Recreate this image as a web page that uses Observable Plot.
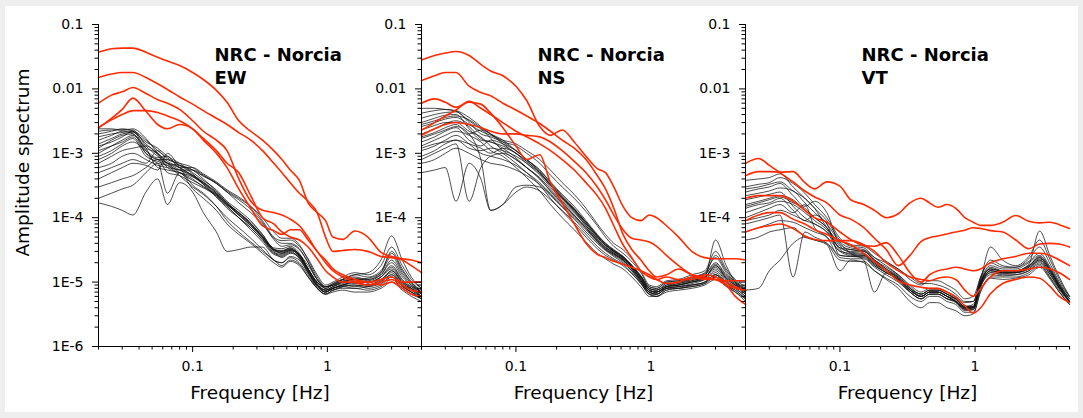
<!DOCTYPE html>
<html><head><meta charset="utf-8">
<script src="https://cdn.jsdelivr.net/npm/d3@7"></script>
<script src="https://cdn.jsdelivr.net/npm/@observablehq/plot@0.6"></script>
<style>
html,body{margin:0;padding:0;background:#eeeeee;width:1083px;height:418px;overflow:hidden;}
#frame{position:absolute;left:5px;top:6px;width:1073px;height:406px;background:#fff;}
#frame svg{position:absolute;top:0;overflow:visible;background:transparent;}
</style></head><body><div id="frame"></div>
<script>
// Frequency samples (Hz) shared by all spectra
const FREQ = [0.02,0.025,0.03,0.036,0.045,0.055,0.065,0.08,0.1,0.12, 0.15,0.18,0.22,0.27,0.33,0.4,0.46,0.53,0.62,0.72, 0.84,0.97,1.1,1.3,1.6,2.0,2.5,3.0,3.6,4.2, 5.0];

const PANELS = ["EW", "NS", "VT"];
const TITLE = "NRC - Norcia";
const X_LABEL = "Frequency [Hz]";
const Y_LABEL = "Amplitude spectrum";
const X_DOMAIN = [0.02, 5];
const Y_DOMAIN = [1e-6, 0.1];
const X_MAJOR = [0.1, 1];
const X_MAJOR_LABELS = ["0.1", "1"];
const Y_MAJOR = [1e-6, 1e-5, 1e-4, 1e-3, 0.01, 0.1];
const Y_MAJOR_LABELS = ["1E-6", "1E-5", "1E-4", "1E-3", "0.01", "0.1"];
// inner panels only show the upper tick labels
const Y_LABELED_INNER = [1e-4, 1e-3, 0.01, 0.1];

// ---- EW component ----
const blackEW = [
[2.2e-3,2.3e-3,2.3e-3,2.3e-3,1.3e-3,9e-4,7e-4,6e-4,4.5e-4,3.5e-4, 2.4e-4,1.7e-4,1.2e-4,8.5e-5,5.5e-5,3.2e-5,3.0e-5,3.4e-5,2.6e-5,1.5e-5, 9e-6,7.5e-6,8.5e-6,9.5e-6,1.0e-5,9e-6,1.1e-5,1.4e-5,9e-6,8e-6, 6.5e-6],
[1.8e-3,2.0e-3,2.1e-3,2.2e-3,1.1e-3,8e-4,8e-4,6.5e-4,4.8e-4,3.3e-4, 2.2e-4,1.5e-4,1.0e-4,7e-5,4.5e-5,2.8e-5,2.6e-5,3.0e-5,2.3e-5,1.4e-5, 8.5e-6,7e-6,8e-6,9e-6,8.5e-6,9.5e-6,1.2e-5,1.6e-5,1.0e-5,8.5e-6, 7e-6],
[1.4e-3,1.7e-3,2.0e-3,2.1e-3,1.4e-3,9.5e-4,6e-4,5e-4,4e-4,3e-4, 2.3e-4,1.6e-4,1.1e-4,7.5e-5,5e-5,3.3e-5,2.8e-5,3.2e-5,2.7e-5,1.6e-5, 1.0e-5,8e-6,7.5e-6,8.5e-6,9e-6,8e-6,9e-6,1.2e-5,8.5e-6,7e-6, 6e-6],
[1.2e-3,1.6e-3,1.9e-3,2.0e-3,1.0e-3,7e-4,6.5e-4,5.5e-4, 5.5e-4,4.5e-4,3.5e-4,2.6e-4,2.0e-4,1.5e-4,1.0e-4,6e-5,4.8e-5,4.8e-5,3.8e-5,2.2e-5, 1.2e-5,8.5e-6,9e-6,1.1e-5,1.2e-5,1.1e-5,1.3e-5,2.2e-5,1.3e-5,9e-6, 7e-6],
[1.0e-3,1.3e-3,1.6e-3,1.9e-3,1.2e-3,1.0e-3,7e-4,5e-4,3.8e-4,3.1e-4, 2.1e-4,1.4e-4,1.0e-4,7e-5,4.6e-5,3.0e-5,2.4e-5,2.8e-5,2.4e-5,1.5e-5, 9e-6,7e-6,8e-6,8.5e-6,8e-6,8.5e-6,1.0e-5,1.3e-5,9e-6,7.5e-6, 6e-6],
[8e-4,1.0e-3,1.3e-3,1.5e-3,1.1e-3,8.5e-4,9e-4,6e-4, 6e-4,4.8e-4,3.6e-4,2.7e-4,2.1e-4,1.5e-4,9e-5,5e-5,4.4e-5,4.5e-5,3.6e-5,2.3e-5, 1.3e-5,9e-6,1.0e-5,1.2e-5,1.4e-5,1.3e-5,1.8e-5,3.5e-5,1.8e-5,1.1e-5, 8e-6],
[6e-4,7e-4,9e-4,1.0e-3,8e-4,6.5e-4,6e-4,5.5e-4,4.6e-4,3.6e-4, 2.5e-4,1.7e-4,1.1e-4,8e-5,5.2e-5,3.1e-5,2.9e-5,3.3e-5,2.5e-5,1.6e-5, 9.5e-6,7.5e-6,8.5e-6,1.0e-5,1.1e-5,1.0e-5,1.2e-5,1.8e-5,1.1e-5,8.5e-6, 6.5e-6],
[5e-4,6e-4,7e-4,8e-4,7e-4,1.1e-3,8e-4,7e-4, 6e-4,4.6e-4,3.4e-4,2.5e-4,1.7e-4,1.2e-4,8e-5,4.8e-5,4e-5,4e-5,3.3e-5,2e-5, 1.1e-5,8e-6,9.5e-6,1.1e-5,1.3e-5,1.2e-5,1.5e-5,2.8e-5,1.5e-5,1.0e-5, 7e-6],
[4e-4,5e-4,6e-4,7e-4,6.5e-4,5.5e-4,1.0e-3,6e-4, 3.2e-4,2.4e-4,1.5e-4,9e-5,6e-5,4.2e-5,3e-5,2.2e-5,1.8e-5,2.2e-5,1.9e-5,1.2e-5, 8e-6,6.5e-6,7.5e-6,8e-6,8e-6,7.5e-6,8.5e-6,1.1e-5,8e-6,6.5e-6, 5.5e-6],
[3e-4,3.5e-4,4e-4,4.5e-4,6e-4,8e-4,5e-4,4.5e-4,3.5e-4,2.9e-4, 2.2e-4,1.6e-4,1.2e-4,8e-5,5e-5,3.2e-5,3.1e-5,3.4e-5,2.7e-5,1.8e-5, 1.1e-5,8.5e-6,9e-6,1.05e-5,1.1e-5,1.15e-5,1.4e-5,2.5e-5,1.4e-5,9.5e-6, 7e-6],
[2e-4,2.4e-4,2.8e-4,3.2e-4,5e-4,7e-4,2.4e-4,5e-4, 2.8e-4,2.0e-4,1.3e-4,8e-5,5.5e-5,4e-5,2.8e-5,2e-5,1.7e-5,2.1e-5,1.8e-5,1.2e-5, 8e-6,6.5e-6,7e-6,7.5e-6,7e-6,7e-6,8e-6,1.0e-5,7.5e-6,6e-6, 5e-6],
[1.7e-4,1.5e-4,1.3e-4,1.1e-4,2.5e-4,4e-4,1.6e-4,3.5e-4,2.5e-4,1.2e-4, 6e-5,3e-5,3.2e-5,3.5e-5,3.5e-5,2.2e-5,2e-5,2.5e-5,2.2e-5,1.4e-5, 9e-6,7e-6,8e-6,9e-6,1.0e-5,9e-6,1.0e-5,1.5e-5,1.0e-5,7.5e-6, 6e-6],
[2.0e-3,2.2e-3,2.4e-3,2.2e-3,1.5e-3,1.2e-3,9e-4,7e-4,5e-4,3.8e-4, 2.7e-4,1.8e-4,1.3e-4,9e-5,5.5e-5,3.4e-5,3.3e-5,3.6e-5,2.8e-5,1.6e-5, 1.0e-5,8.5e-6,9.5e-6,1.1e-5,1.15e-5,1.05e-5,1.3e-5,2.0e-5,1.2e-5,9e-6, 7e-6],
[1.6e-3,1.9e-3,2.2e-3,2.0e-3,1.2e-3,6e-4,5.5e-4,5e-4,4.3e-4,3.3e-4, 2.1e-4,1.5e-4,1.0e-4,6.5e-5,4.2e-5,2.7e-5,2.5e-5,2.9e-5,2.4e-5,1.4e-5, 8.5e-6,7e-6,8e-6,9e-6,9.5e-6,9e-6,1.05e-5,1.3e-5,9e-6,7e-6, 5.5e-6],
[1.3e-3,1.5e-3,1.8e-3,2.2e-3,1.6e-3,1.1e-3,8.5e-4,6.5e-4, 5.5e-4,4.4e-4,3.4e-4,2.5e-4,1.9e-4,1.35e-4,8.5e-5,4.6e-5,3.6e-5,3.8e-5,3.2e-5,2e-5, 1.1e-5,8.5e-6,9e-6,1.0e-5,1.1e-5,1.1e-5,1.4e-5,3.0e-5,1.6e-5,1.0e-5, 7.5e-6],
[9e-4,1.1e-3,1.4e-3,1.7e-3,9e-4,7.5e-4,6.5e-4,4.5e-4, 3e-4,2.3e-4,1.5e-4,1.0e-4,7e-5,4.8e-5,3.2e-5,2.2e-5,2.0e-5,2.4e-5,2.0e-5,1.3e-5, 8e-6,6.5e-6,7.5e-6,8.5e-6,9e-6,8.5e-6,9.5e-6,1.2e-5,8.5e-6,7e-6, 5.5e-6],
[7e-4,9e-4,1.1e-3,1.2e-3,1.3e-3,1.0e-3,7.5e-4,6e-4,4.5e-4,3.5e-4, 2.4e-4,1.6e-4,1.15e-4,8e-5,5e-5,3.1e-5,2.8e-5,3.1e-5,2.6e-5,1.6e-5, 9.5e-6,7.5e-6,8e-6,9e-6,1.0e-5,1.0e-5,1.2e-5,1.7e-5,1.05e-5,8e-6, 6e-6],
[2.4e-3,2.4e-3,2.3e-3,2.4e-3,1.7e-3,1.0e-3,7e-4,6.5e-4,5.5e-4,4e-4, 2.6e-4,1.7e-4,1.2e-4,8e-5,5e-5,3.2e-5,3e-5,3.2e-5,2.5e-5,1.5e-5, 9e-6,7.5e-6,8.5e-6,1.0e-5,1.05e-5,1.0e-5,1.1e-5,1.5e-5,9.5e-6,8e-6, 6e-6],
[1.1e-3,1.3e-3,1.5e-3,1.8e-3,1.0e-3,8e-4,7e-4,5.5e-4,4.4e-4,3.4e-4, 2.3e-4,1.6e-4,1.1e-4,7.5e-5,4.8e-5,2.9e-5,2.7e-5,3.1e-5,2.6e-5,1.6e-5, 1.0e-5,8e-6,9e-6,1.1e-5,1.3e-5,1.4e-5,2.2e-5,5.2e-5,2.2e-5,1.2e-5, 8e-6]
];
const redEW = [
[0.037,0.042,0.043,0.043,0.037,0.031,0.027,0.023,0.018,0.014, 0.0095,0.0062,0.0032,0.0022,0.0016,0.0011,8e-4,5.5e-4,3.8e-4,1.7e-4, 1.2e-4,9e-5,5e-5,4.6e-5,6.2e-5,5e-5,2.9e-5,2.5e-5,2.3e-5,2.2e-5, 2.0e-5],
[0.015,0.017,0.018,0.018,0.015,0.012,0.0098,0.0075,0.0058,0.0046, 0.0035,0.0028,0.0021,0.0016,0.0011,7e-4,5e-4,3.5e-4,2.4e-4,1.8e-4, 1.2e-4,5e-5,3e-5,3.1e-5,3.2e-5,3.0e-5,2.5e-5,2.4e-5,2.2e-5,1.8e-5, 1.4e-5],
[0.006,0.008,0.009,0.0105,0.0085,0.0068,0.006,0.0048,0.0032,0.0022, 0.0016,0.0011,4e-4,1.8e-4,1.3e-4,1.2e-4,1.1e-4,9.5e-5,7.5e-5,5e-5, 3e-5,2.2e-5,1.6e-5,1.3e-5,1.1e-5,1.0e-5,1.1e-5,1.2e-5,1.0e-5,1.0e-5, 1.0e-5],
[0.0025,0.0035,0.0048,0.0072,0.0045,0.0028,0.0024,0.0028,0.0024,0.0016, 0.001,6e-4,2.8e-4,1.4e-4,7.5e-5,6.3e-5,5.5e-5,6.5e-5,6.5e-5,4.5e-5, 3e-5,2e-5,1.5e-5,1.2e-5,1.0e-5,9e-6,1.0e-5,1.1e-5,9e-6,7.5e-6, 7e-6],
[0.0025,0.0033,0.004,0.0046,0.0046,0.0043,0.0038,0.0032,0.0024,0.0017, 0.0011,7e-4,5e-4,2.2e-4,1.0e-4,8e-5,6e-5,5e-5,4.5e-5,3.5e-5, 2.3e-5,1.5e-5,1.2e-5,1.0e-5,1.0e-5,1.0e-5,9e-6,1.0e-5,8e-6,6.5e-6, 6e-6]
];

// ---- NS component ----
const blackNS = [
[5.0e-3,5.0e-3,4.8e-3,4.5e-3,3.2e-3,2.4e-3,2.0e-3,1.6e-3,1.1e-3,8e-4, 5.5e-4,3.5e-4,2.2e-4,1.4e-4,8.5e-5,5.2e-5,3.8e-5,3.0e-5,2.4e-5,1.8e-5, 1.2e-5,8e-6,7.5e-6,9e-6,9.5e-6,1.1e-5,1.2e-5,1.8e-5,1.2e-5,9.5e-6, 7.5e-6],
[4.2e-3,4.6e-3,4.8e-3,4.6e-3,3.6e-3,2.6e-3,2.0e-3,1.4e-3,1.0e-3,7.5e-4, 5e-4,3.2e-4,2.0e-4,1.3e-4,8e-5,5e-5,3.7e-5,3.0e-5,2.4e-5,1.7e-5, 1.1e-5,7.5e-6,7e-6,8.5e-6,9e-6,1.0e-5,1.1e-5,1.4e-5,1.0e-5,8.5e-6, 6.5e-6],
[3.5e-3,4.0e-3,4.3e-3,4.4e-3,3.0e-3,2.0e-3,1.8e-3,1.5e-3, 1.3e-3,1.0e-3,7e-4,4.6e-4,3e-4,2e-4,1.25e-4,7.5e-5,5e-5,3.6e-5,2.8e-5,2.1e-5, 1.4e-5,8.5e-6,8e-6,1.0e-5,1.05e-5,1.2e-5,1.4e-5,2.4e-5,1.4e-5,1.0e-5, 8e-6],
[3.0e-3,3.5e-3,3.9e-3,4.0e-3,2.4e-3,1.6e-3,1.5e-3,1.2e-3,8.5e-4,6e-4, 4e-4,2.6e-4,1.7e-4,1.1e-4,7e-5,4.5e-5,3.4e-5,2.8e-5,2.2e-5,1.6e-5, 1.05e-5,7e-6,6.5e-6,8e-6,8.5e-6,9e-6,1.0e-5,1.3e-5,1.0e-5,8e-6, 6e-6],
[2.6e-3,3.0e-3,3.4e-3,3.6e-3,2.8e-3,2.2e-3,1.9e-3,1.6e-3, 1.4e-3,1.1e-3,8e-4,5.5e-4,3.5e-4,2.3e-4,1.4e-4,8e-5,5.5e-5,4e-5,3.2e-5,2.3e-5, 1.5e-5,9e-6,8.5e-6,1.05e-5,1.1e-5,1.3e-5,1.5e-5,3.0e-5,1.6e-5,1.1e-5, 8.5e-6],
[2.3e-3,2.7e-3,3.0e-3,3.0e-3,2.2e-3,1.8e-3,1.3e-3,1.0e-3, 7e-4,5e-4,3.2e-4,2.0e-4,1.25e-4,8e-5,5e-5,3.3e-5,2.6e-5,2.2e-5,1.8e-5,1.35e-5, 9.5e-6,6.5e-6,6e-6,7.5e-6,8e-6,8.5e-6,9.5e-6,1.2e-5,9e-6,7.5e-6, 5.5e-6],
[2.0e-3,2.4e-3,2.9e-3,3.2e-3,2.6e-3,1.7e-3,1.5e-3,1.3e-3,1.0e-3,7e-4, 4.6e-4,3.0e-4,1.9e-4,1.25e-4,7.5e-5,4.7e-5,3.5e-5,2.9e-5,2.3e-5,1.7e-5, 1.15e-5,7.5e-6,7e-6,8.5e-6,9.5e-6,1.05e-5,1.2e-5,1.7e-5,1.15e-5,9e-6, 7e-6],
[1.8e-3,2.1e-3,2.5e-3,2.8e-3,2.0e-3,2.3e-3,1.7e-3,1.1e-3,8e-4,6e-4, 4e-4,2.6e-4,1.7e-4,1.1e-4,7e-5,4.4e-5,3.3e-5,2.7e-5,2.2e-5,1.6e-5, 1.1e-5,7e-6,6.5e-6,8e-6,8.5e-6,9.5e-6,1.1e-5,1.5e-5,1.05e-5,8.5e-6, 6.5e-6],
[1.5e-3,1.8e-3,2.2e-3,2.5e-3,1.6e-3,1.3e-3,1.6e-3,1.4e-3,1.1e-3,8e-4, 5.5e-4,3.6e-4,2.3e-4,1.5e-4,9e-5,5.5e-5,4.0e-5,3.1e-5,2.5e-5,1.8e-5, 1.25e-5,8e-6,7.5e-6,9e-6,1.0e-5,1.1e-5,1.3e-5,2.0e-5,1.3e-5,1.0e-5, 7.5e-6],
[1.3e-3,1.6e-3,1.9e-3,2.2e-3,1.9e-3,1.5e-3,1.1e-3,9e-4, 6e-4,4.2e-4,2.6e-4,1.6e-4,1.0e-4,6.5e-5,4.2e-5,2.8e-5,2.3e-5,1.9e-5,1.6e-5,1.2e-5, 8.5e-6,6e-6,6e-6,7e-6,7.5e-6,8e-6,9e-6,1.1e-5,8.5e-6,7e-6, 5e-6],
[1.1e-3,1.3e-3,1.6e-3,1.9e-3,1.4e-3,1.0e-3,9e-4,8e-4,6.5e-4,5e-4, 3.5e-4,2.4e-4,1.6e-4,1.05e-4,6.8e-5,4.3e-5,3.2e-5,2.7e-5,2.2e-5,1.6e-5, 1.05e-5,7e-6,7e-6,8.5e-6,9e-6,1.0e-5,1.2e-5,4.5e-5,1.8e-5,1.0e-5, 7e-6],
[9e-4,1.1e-3,1.4e-3,1.6e-3,1.2e-3,1.1e-3,1.2e-3,1.1e-3,9e-4,7e-4, 4.8e-4,3.2e-4,2.0e-4,1.3e-4,8e-5,5e-5,3.7e-5,3.0e-5,2.4e-5,1.75e-5, 1.2e-5,7.5e-6,7e-6,8.5e-6,9e-6,1.05e-5,1.2e-5,1.6e-5,1.1e-5,9e-6, 7e-6],
[7e-4,8e-4,1.0e-3,1.2e-3,1.0e-3,8e-4,7e-4,6.5e-4,5.5e-4,4.5e-4, 3.3e-4,2.3e-4,1.5e-4,1.0e-4,6.5e-5,4.2e-5,3.2e-5,2.6e-5,2.1e-5,1.5e-5, 1.0e-5,7e-6,6.5e-6,8e-6,8.5e-6,9e-6,1.0e-5,1.3e-5,9.5e-6,8e-6, 6e-6],
[5e-4,5.5e-4,6e-4,1.8e-4,7e-4,4e-4,1.3e-4,1.6e-4,2.5e-4,3.0e-4, 2.6e-4,1.9e-4,1.3e-4,8.5e-5,5.5e-5,3.6e-5,2.8e-5,2.3e-5,1.9e-5,1.4e-5, 9.5e-6,6.5e-6,6e-6,7.5e-6,8e-6,8.5e-6,9.5e-6,1.2e-5,9e-6,7e-6, 5.5e-6],
[8e-4,1.0e-3,1.2e-3,1.4e-3,1.8e-4,6e-4,9e-4,1.0e-3,8e-4,6e-4, 4.2e-4,2.8e-4,1.8e-4,1.2e-4,7.5e-5,4.7e-5,3.5e-5,2.8e-5,2.3e-5,1.7e-5, 1.1e-5,7.5e-6,7e-6,8.5e-6,9e-6,1.0e-5,1.15e-5,1.8e-5,1.15e-5,9e-6, 7e-6],
[1.2e-3,1.4e-3,1.5e-3,1.6e-3,1.4e-3,1.2e-3,1.0e-3,1.2e-3,1.0e-3,7.5e-4, 5e-4,3.3e-4,2.1e-4,1.35e-4,8.5e-5,5.3e-5,3.9e-5,3.1e-5,2.5e-5,1.85e-5, 1.25e-5,8.5e-6,8e-6,1.0e-5,1.05e-5,1.2e-5,1.35e-5,2.6e-5,1.5e-5,1.05e-5, 8e-6],
[2.8e-3,3.2e-3,3.6e-3,3.8e-3,3.3e-3,2.5e-3,2.0e-3,1.5e-3,1.1e-3,8e-4, 5.2e-4,3.3e-4,2.1e-4,1.35e-4,8.5e-5,5.3e-5,4.0e-5,3.2e-5,2.5e-5,1.8e-5, 1.2e-5,8e-6,7.5e-6,9.5e-6,1.0e-5,1.15e-5,1.3e-5,1.9e-5,1.25e-5,9.5e-6, 7e-6],
[1.7e-3,2.0e-3,2.3e-3,2.6e-3,2.0e-3,8e-4,1.3e-4,1.6e-4,3e-4,3.2e-4, 3.0e-4,2.2e-4,1.45e-4,9.5e-5,6e-5,4e-5,3.1e-5,2.5e-5,2.0e-5,1.5e-5, 1.0e-5,6.5e-6,6.5e-6,8e-6,8e-6,9e-6,1.0e-5,1.3e-5,9e-6,7.5e-6, 5.5e-6]
];
const redNS = [
[0.028,0.033,0.036,0.038,0.033,0.024,0.019,0.016,0.011,0.0066, 0.0026,0.0019,0.0023,0.0015,9e-4,5.8e-4,5e-4,3e-4,1.5e-4,1.0e-4, 9e-5,1.1e-4,1.0e-4,7.5e-5,5e-5,3e-5,2.4e-5,2.3e-5,2.3e-5,2.3e-5, 2.2e-5],
[0.0135,0.016,0.018,0.018,0.011,0.0088,0.0078,0.006,0.0047,0.0038, 0.0029,0.0022,0.0016,0.0012,8e-4,4.5e-4,2.8e-4,1.4e-4,5.5e-5,3.2e-5, 2.2e-5,1.5e-5,1.2e-5,1.3e-5,1.6e-5,1.3e-5,1.2e-5,1.1e-5,9e-6,6e-6, 4.5e-6],
[0.006,0.007,0.0062,0.0052,0.0062,0.0058,0.0042,0.0025,0.0013,8e-4, 9.5e-4,3.5e-4,1.7e-4,8e-5,4e-5,2.7e-5,2.4e-5,2.1e-5,1.9e-5,1.7e-5, 1.5e-5,1.3e-5,1.1e-5,9.5e-6,1.0e-5,1.2e-5,1.1e-5,1.1e-5,9e-6,8e-6, 7.5e-6],
[0.0023,0.003,0.0038,0.0047,0.0064,0.005,0.004,0.003,0.0022,0.0018, 0.0014,0.0011,8e-4,5.5e-4,3.5e-4,2.2e-4,1.4e-4,7.5e-5,3.8e-5,2.4e-5, 1.5e-5,1.2e-5,1.1e-5,1.2e-5,1.1e-5,1.1e-5,1.3e-5,1.2e-5,1.0e-5,8.5e-6, 7.5e-6],
[0.0019,0.0024,0.0028,0.003,0.0028,0.0025,0.0022,0.002,0.002,0.0019, 0.0018,0.0015,0.0011,7.5e-4,5e-4,3e-4,1.9e-4,1.1e-4,6.5e-5,4.8e-5, 4.5e-5,4.2e-5,3.6e-5,2.6e-5,1.8e-5,1.3e-5,1.15e-5,1.1e-5,1.05e-5,1.05e-5, 1.05e-5]
];

// ---- VT component ----
const blackVT = [
[3.8e-4,4.0e-4,4.2e-4,4.8e-4,3.0e-4,2.0e-4,1.4e-4,9e-5,4.5e-5,3.8e-5, 3.6e-5,2.8e-5,2.1e-5,1.6e-5,1.2e-5,9.5e-6,9.5e-6,9e-6,8e-6,6.5e-6, 5e-6,5e-6,1.1e-5,1.8e-5,1.6e-5,1.6e-5,2.0e-5,2.6e-5,1.6e-5,9e-6, 5.5e-6],
[3.0e-4,3.3e-4,3.5e-4,4.2e-4,3.4e-4,2.4e-4,1.6e-4,1.0e-4,4.8e-5,3.6e-5, 3.4e-5,2.4e-5,1.8e-5,1.3e-5,8.5e-6,6.5e-6,7.5e-6,7.5e-6,6.5e-6,5.5e-6, 4.2e-6,4.2e-6,1.0e-5,1.6e-5,1.5e-5,1.5e-5,1.8e-5,2.4e-5,1.5e-5,9e-6, 5.5e-6],
[2.5e-4,2.8e-4,3.0e-4,3.4e-4,2.2e-4,1.5e-4,1.8e-4,1.2e-4,3.8e-5,3.2e-5, 3e-5,2.2e-5,1.6e-5,1.2e-5,8e-6,6e-6,7e-6,7e-6,6e-6,5.5e-6, 4e-6,4e-6,9e-6,1.5e-5,1.4e-5,1.4e-5,1.7e-5,2.2e-5,1.4e-5,8e-6, 5e-6],
[2.2e-4,2.4e-4,2.6e-4,2.9e-4,2.6e-4,1.7e-4,1.2e-4,8e-5,4.2e-5,3.4e-5, 3.2e-5,2.4e-5,2.0e-5,1.6e-5,1.1e-5,9e-6,1.05e-5,1.05e-5,9e-6,7.5e-6, 5.5e-6,6e-6,1.2e-5,2.2e-5,1.8e-5,1.7e-5,2.3e-5,3.5e-5,1.9e-5,1.0e-5, 6e-6],
[1.9e-4,2.1e-4,2.3e-4,2.5e-4,1.5e-4,1.0e-4,8e-5,6e-5,3e-5,2.8e-5, 2.7e-5,1.9e-5,1.4e-5,1.1e-5,7e-6,5.5e-6,6.5e-6,6.5e-6,5.5e-6,5e-6, 3.8e-6,3.8e-6,8.5e-6,1.4e-5,1.3e-5,1.3e-5,1.5e-5,2.0e-5,1.3e-5,8e-6, 5e-6],
[1.6e-4,1.8e-4,2.0e-4,2.2e-4,1.9e-4,1.3e-4,1.0e-4,7e-5,3.4e-5,3.2e-5, 3.1e-5,2.2e-5,1.6e-5,1.25e-5,8e-6,6.5e-6,7.5e-6,7.5e-6,6.5e-6,5.5e-6, 4.2e-6,4.5e-6,1.1e-5,3.5e-5,2.2e-5,1.8e-5,2.5e-5,4.5e-5,2.2e-5,1.1e-5, 6e-6],
[1.4e-4,1.6e-4,1.7e-4,2.0e-4,1.3e-4,9e-5,1.1e-4,8e-5,2.6e-5,2.5e-5, 2.5e-5,1.8e-5,1.4e-5,1.1e-5,7.5e-6,6e-6,7e-6,7e-6,6e-6,5e-6, 4e-6,4e-6,9.5e-6,1.5e-5,1.4e-5,1.4e-5,1.6e-5,2.2e-5,1.4e-5,8.5e-6, 5e-6],
[1.2e-4,1.4e-4,1.6e-4,1.8e-4,1.6e-4,1.2e-4,9e-5,6.5e-5,3.2e-5,2.7e-5, 2.6e-5,1.9e-5,1.5e-5,1.15e-5,7.5e-6,6e-6,7e-6,7e-6,6e-6,5e-6, 3.8e-6,4e-6,1.0e-5,1.7e-5,1.5e-5,1.5e-5,1.9e-5,6.2e-5,2.5e-5,1.2e-5, 6e-6],
[1.0e-4,1.2e-4,1.4e-4,1.6e-4,1.2e-4,1.6e-4,7e-5,5e-5,2.4e-5,2.3e-5, 2.3e-5,1.7e-5,1.3e-5,1.0e-5,7e-6,5.5e-6,6.5e-6,6.5e-6,5.5e-6,4.8e-6, 3.6e-6,3.7e-6,8.5e-6,1.3e-5,1.25e-5,1.3e-5,1.5e-5,1.9e-5,1.2e-5,7.5e-6, 4.8e-6],
[9e-5,1.0e-4,1.1e-4,1.3e-4,1.1e-4,9e-5,8e-5,6e-5,3.4e-5,3.0e-5, 3.0e-5,2.2e-5,1.7e-5,1.3e-5,9e-6,7e-6,8e-6,8e-6,7e-6,6e-6, 4.8e-6,5e-6,1.2e-5,2.0e-5,1.7e-5,1.7e-5,2.1e-5,2.8e-5,1.7e-5,9.5e-6, 5.5e-6],
[8e-5,9e-5,1.0e-4,1.1e-4,1.2e-5,6e-5,5e-5,4e-5,2.2e-5,2.1e-5, 2.1e-5,1.5e-5,1.1e-5,8e-6,5e-6,4e-6,4.8e-6,4.8e-6,4e-6,3.6e-6, 3e-6,3.2e-6,7e-6,1.2e-5,1.2e-5,1.2e-5,1.4e-5,1.8e-5,1.15e-5,7e-6, 4.5e-6],
[6e-5,7e-5,8e-5,9e-5,8.5e-5,7e-5,6e-5,5e-5,3e-5,2.6e-5, 2.6e-5,2.0e-5,1.5e-5,1.2e-5,8e-6,6.5e-6,7.5e-6,7.5e-6,6.5e-6,5.5e-6, 4.2e-6,4.2e-6,1.0e-5,1.6e-5,1.5e-5,1.5e-5,1.8e-5,2.5e-5,1.6e-5,9e-6, 5e-6],
[4.5e-5,5e-5,6e-5,6.5e-5,7e-5,5e-5,4.5e-5,3.8e-5,1.5e-5,2.2e-5, 2.0e-5,1.5e-5,1.15e-5,9e-6,6e-6,5e-6,6e-6,6e-6,5e-6,4.5e-6, 3.4e-6,3.4e-6,7.5e-6,1.15e-5,1.1e-5,1.15e-5,1.3e-5,1.7e-5,1.1e-5,7e-6, 4.5e-6],
[7.5e-6,8e-6,1.5e-5,2.2e-5,4e-5,5e-5,4.5e-5,4e-5,2.6e-5,2.5e-5, 2.4e-5,1.8e-5,1.4e-5,1.1e-5,7.5e-6,6e-6,7e-6,7e-6,6e-6,5e-6, 4e-6,4e-6,9e-6,1.5e-5,1.4e-5,1.4e-5,1.7e-5,2.3e-5,1.5e-5,8.5e-6, 5e-6],
[2.8e-4,3.0e-4,3.3e-4,3.6e-4,2.6e-4,2.0e-4,1.4e-4,7e-5,4e-5,2.8e-5, 2.2e-5,7e-6,1.4e-5,1.05e-5,7e-6,5.5e-6,6.5e-6,6.5e-6,5.5e-6,5e-6, 3.8e-6,3.8e-6,9e-6,1.4e-5,1.35e-5,1.4e-5,1.6e-5,2.1e-5,1.3e-5,8e-6, 5e-6],
[1.5e-4,1.7e-4,1.9e-4,2.1e-4,1.7e-4,1.4e-4,1.0e-4,7e-5,3.6e-5,2.9e-5, 2.8e-5,2.0e-5,1.5e-5,1.15e-5,7.5e-6,6e-6,7e-6,7e-6,6e-6,5.2e-6, 4e-6,4.2e-6,1.0e-5,1.6e-5,1.45e-5,1.45e-5,1.75e-5,2.4e-5,1.5e-5,8.5e-6, 5e-6]
];
const redVT = [
[4.5e-4,5.2e-4,5.2e-4,5.1e-4,5.2e-4,3.5e-4,2.8e-4,3.6e-4,3.1e-4,1.9e-4, 1.6e-4,1.3e-4,1.0e-4,1.15e-4,1.7e-4,2.0e-4,1.7e-4,1.45e-4,1.6e-4,1.4e-4, 1.0e-4,8.5e-5,7.6e-5,7.6e-5,8.5e-5,1.08e-4,8.8e-5,8.3e-5,8.5e-5,7.8e-5, 6.8e-5],
[7e-4,8.3e-4,6.5e-4,5e-4,3.6e-4,2.6e-4,2.1e-4,1.7e-4,1.1e-4,9.5e-5, 7e-5,4.8e-5,3.2e-5,1.8e-5,2.6e-5,4.3e-5,4.9e-5,5.2e-5,5.6e-5,6e-5, 6.4e-5,7e-5,6.8e-5,6.3e-5,6e-5,4.5e-5,3.3e-5,3.9e-5,4e-5,3.9e-5, 3.5e-5],
[9e-5,1.1e-4,1.2e-4,1.2e-4,9.5e-5,8e-5,6.5e-5,5.5e-5,4.4e-5,3.8e-5, 2.8e-5,2.1e-5,1.5e-5,1.05e-5,9e-6,8.3e-6,8e-6,8e-6,7e-6,5.8e-6, 4.3e-6,3.3e-6,4e-6,6.6e-6,9.5e-6,1.1e-5,1.2e-5,1.15e-5,8.5e-6,6e-6, 4.8e-6],
[2e-4,2.2e-4,2.2e-4,2.2e-4,1.8e-4,1.3e-4,1.0e-4,8.5e-5,6e-5,4.6e-5, 3.7e-5,3.6e-5,4.1e-5,2.6e-5,1.4e-5,1.0e-5,1.3e-5,1.5e-5,1.6e-5,1.7e-5, 1.6e-5,1.5e-5,1.6e-5,2.0e-5,2.3e-5,2.5e-5,2.8e-5,2.8e-5,2.6e-5,2.2e-5, 1.8e-5],
[6e-5,7e-5,7.5e-5,8e-5,6.8e-5,5.2e-5,4.6e-5,4.4e-5,4.4e-5,4.4e-5, 3.8e-5,3e-5,2e-5,1.5e-5,1.2e-5,1.1e-5,1.05e-5,1.15e-5,1.2e-5,1.1e-5, 7.5e-6,6e-6,8e-6,1.2e-5,1.5e-5,1.5e-5,1.6e-5,1.7e-5,1.6e-5,1.4e-5, 1.1e-5]
];

const DATA = {EW: [blackEW, redEW], NS: [blackNS, redNS], VT: [blackVT, redVT]};

// minor log ticks (2..9 within each decade)
const X_MINOR = [];
for (const e of [-2, -1, 0]) for (let k = 2; k <= 9; k++) { const t = +(k * Math.pow(10, e)).toPrecision(3); if (t >= X_DOMAIN[0] && t <= X_DOMAIN[1]) X_MINOR.push(t); }
const Y_MINOR = [];
for (const e of [-6, -5, -4, -3, -2]) for (let k = 2; k <= 9; k++) Y_MINOR.push(+(k * Math.pow(10, e)).toPrecision(3));

function rowsOf(curves, tag) {
  const out = [];
  curves.forEach((c, i) => c.forEach((v, j) => { if (j < FREQ.length) out.push({f: FREQ[j], v, id: tag + i}); }));
  return out;
}

const FONT = "DejaVu Sans, Verdana, sans-serif";
const ML = 93, MR = 6, MT = 18, MB = 60, H = 400;
const AXIS_X = [98, 421, 745, 1069]; // page x of panel frame edges
const frame = document.getElementById("frame");

PANELS.forEach((name, p) => {
  const [blacks, reds] = DATA[name];
  const pw = AXIS_X[p + 1] - AXIS_X[p];
  const labeled = p === 0 ? Y_MAJOR : Y_LABELED_INNER;
  const unlabeled = Y_MAJOR.filter(d => !labeled.includes(d));
  const marks = [
    Plot.line(rowsOf(blacks, "b"), {x: "f", y: "v", z: "id", stroke: "#111", strokeWidth: 0.75, curve: "monotone-x"}),
    Plot.line(rowsOf(reds, "r"), {x: "f", y: "v", z: "id", stroke: "#ff2a00", strokeWidth: 1.6, curve: "monotone-x"}),
    Plot.ruleX([X_DOMAIN[0]], {stroke: "#000", strokeWidth: 1}),
    Plot.ruleY([Y_DOMAIN[0]], {stroke: "#000", strokeWidth: 1}),
    Plot.axisX({ticks: X_MAJOR, tickSize: 6, tickPadding: 9, tickFormat: d => X_MAJOR_LABELS[X_MAJOR.indexOf(d)], fontSize: 14, label: null}),
    Plot.axisX({ticks: X_MINOR, tickSize: 3.5, tickFormat: () => "", label: null}),
    Plot.axisY({ticks: labeled, tickSize: 6, tickPadding: 9, tickFormat: d => Y_MAJOR_LABELS[Y_MAJOR.indexOf(d)], fontSize: 14, label: null}),
    Plot.axisY({ticks: Y_MINOR, tickSize: 3.5, tickFormat: () => "", label: null}),
    Plot.text([TITLE + "\n" + name], {text: d => d, frameAnchor: "top-left", dx: 116, dy: 19, lineAnchor: "top", textAnchor: "start", fontWeight: "bold", fontSize: 18, lineHeight: 1.33, fill: "#000"}),
    Plot.text([X_LABEL], {text: d => d, frameAnchor: "bottom", dy: 52, fontSize: 18.5, fill: "#000"})
  ];
  if (unlabeled.length) marks.push(Plot.axisY({ticks: unlabeled, tickSize: 6, tickFormat: () => "", label: null}));
  if (p === 0) marks.push(Plot.text([Y_LABEL], {text: d => d, frameAnchor: "left", textAnchor: "middle", lineAnchor: "middle", rotate: -90, dx: -75, dy: -23, fontSize: 18.5, fill: "#000"}));
  const svg = Plot.plot({
    width: ML + pw + MR, height: H,
    marginLeft: ML, marginRight: MR, marginTop: MT, marginBottom: MB,
    style: {background: "transparent", overflow: "visible", fontFamily: FONT, color: "#000"},
    x: {type: "log", domain: X_DOMAIN},
    y: {type: "log", domain: Y_DOMAIN},
    marks
  });
  svg.style.left = (AXIS_X[p] - 5 - ML) + "px";
  frame.appendChild(svg);
});
</script></body></html>
